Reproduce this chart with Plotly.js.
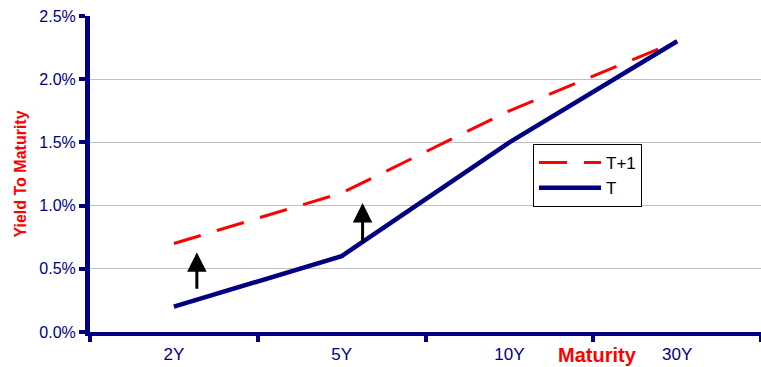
<!DOCTYPE html>
<html><head><meta charset="utf-8">
<script src="https://cdn.plot.ly/plotly-3.0.1.min.js"></script>
<style>html,body{margin:0;padding:0;background:#fff;}#chart{width:761px;height:367px;}</style>
</head><body><div id="chart"></div>
<script>
const maturities = ['2Y', '5Y', '10Y', '30Y'];
const yieldT = [0.2, 0.6, 1.5, 2.3];
const yieldT1 = [0.7, 1.1, 1.75, 2.3];
const yTicks = [0, 0.5, 1.0, 1.5, 2.0, 2.5];
const yTickLabels = ['0.0%', '0.5%', '1.0%', '1.5%', '2.0%', '2.5%'];
// arrows: [x category position, tail yield, head yield]
const arrows = [[0.137, 0.33, 0.63], [1.125, 0.70, 1.02]];

const navy = '#000080';
const traces = [
  {x: maturities, y: yieldT1, name: 'T+1', mode: 'lines', type: 'scatter',
   line: {color: '#ff0000', width: 3, dash: '28px,17px'}},
  {x: maturities, y: yieldT, name: 'T', mode: 'lines', type: 'scatter',
   line: {color: navy, width: 4.5}}
];
const annotations = arrows.map(a => ({
  x: a[0], y: a[2], ax: a[0], ay: a[1], xref: 'x', yref: 'y', axref: 'x', ayref: 'y',
  showarrow: true, arrowhead: 2, arrowsize: 1.3, arrowwidth: 3, arrowcolor: '#000', text: ''
}));
annotations.push({text: '<b>Maturity</b>', xref: 'paper', yref: 'paper', x: (597-90)/671, y: 0,
  yshift: -23, showarrow: false, xanchor: 'center', yanchor: 'middle',
  font: {family: 'Arial, Liberation Sans', size: 20, color: '#ff0000'}});

const layout = {
  width: 761, height: 367,
  margin: {l: 90, r: 0, t: 16, b: 35},
  paper_bgcolor: '#fff', plot_bgcolor: '#fff',
  font: {family: 'Arial, Liberation Sans, sans-serif', size: 13, color: navy},
  showlegend: true,
  legend: {x: (533-90)/671, y: 0.595, xanchor: 'left', yanchor: 'top',
    bgcolor: '#fff', bordercolor: '#000', borderwidth: 1, itemwidth: 62,
    font: {size: 17, color: '#000'}, tracegroupgap: 0},
  xaxis: {type: 'category', range: [-0.5, 3.5], tickson: 'boundaries',
    showline: true, linecolor: navy, linewidth: 4, ticks: 'outside', ticklen: 6,
    tickwidth: 4, tickcolor: navy, showgrid: false, zeroline: false,
    tickfont: {size: 17, color: navy}, ticklabelstandoff: 4, fixedrange: true},
  yaxis: {range: [0, 2.5], tickvals: yTicks, ticktext: yTickLabels,
    showline: true, linecolor: navy, linewidth: 5, ticks: 'outside', ticklen: 6,
    tickwidth: 4, tickcolor: navy, showgrid: true, gridcolor: '#c0c0c0', gridwidth: 1,
    zeroline: false, tickfont: {size: 16, color: navy},
    title: {text: '<b>Yield To Maturity</b>', standoff: 10,
      font: {family: 'Arial, Liberation Sans', size: 16, color: '#ff0000'}}},
  annotations: annotations
};
Plotly.newPlot('chart', traces, layout, {displayModeBar: false, staticPlot: true});
</script></body></html>
